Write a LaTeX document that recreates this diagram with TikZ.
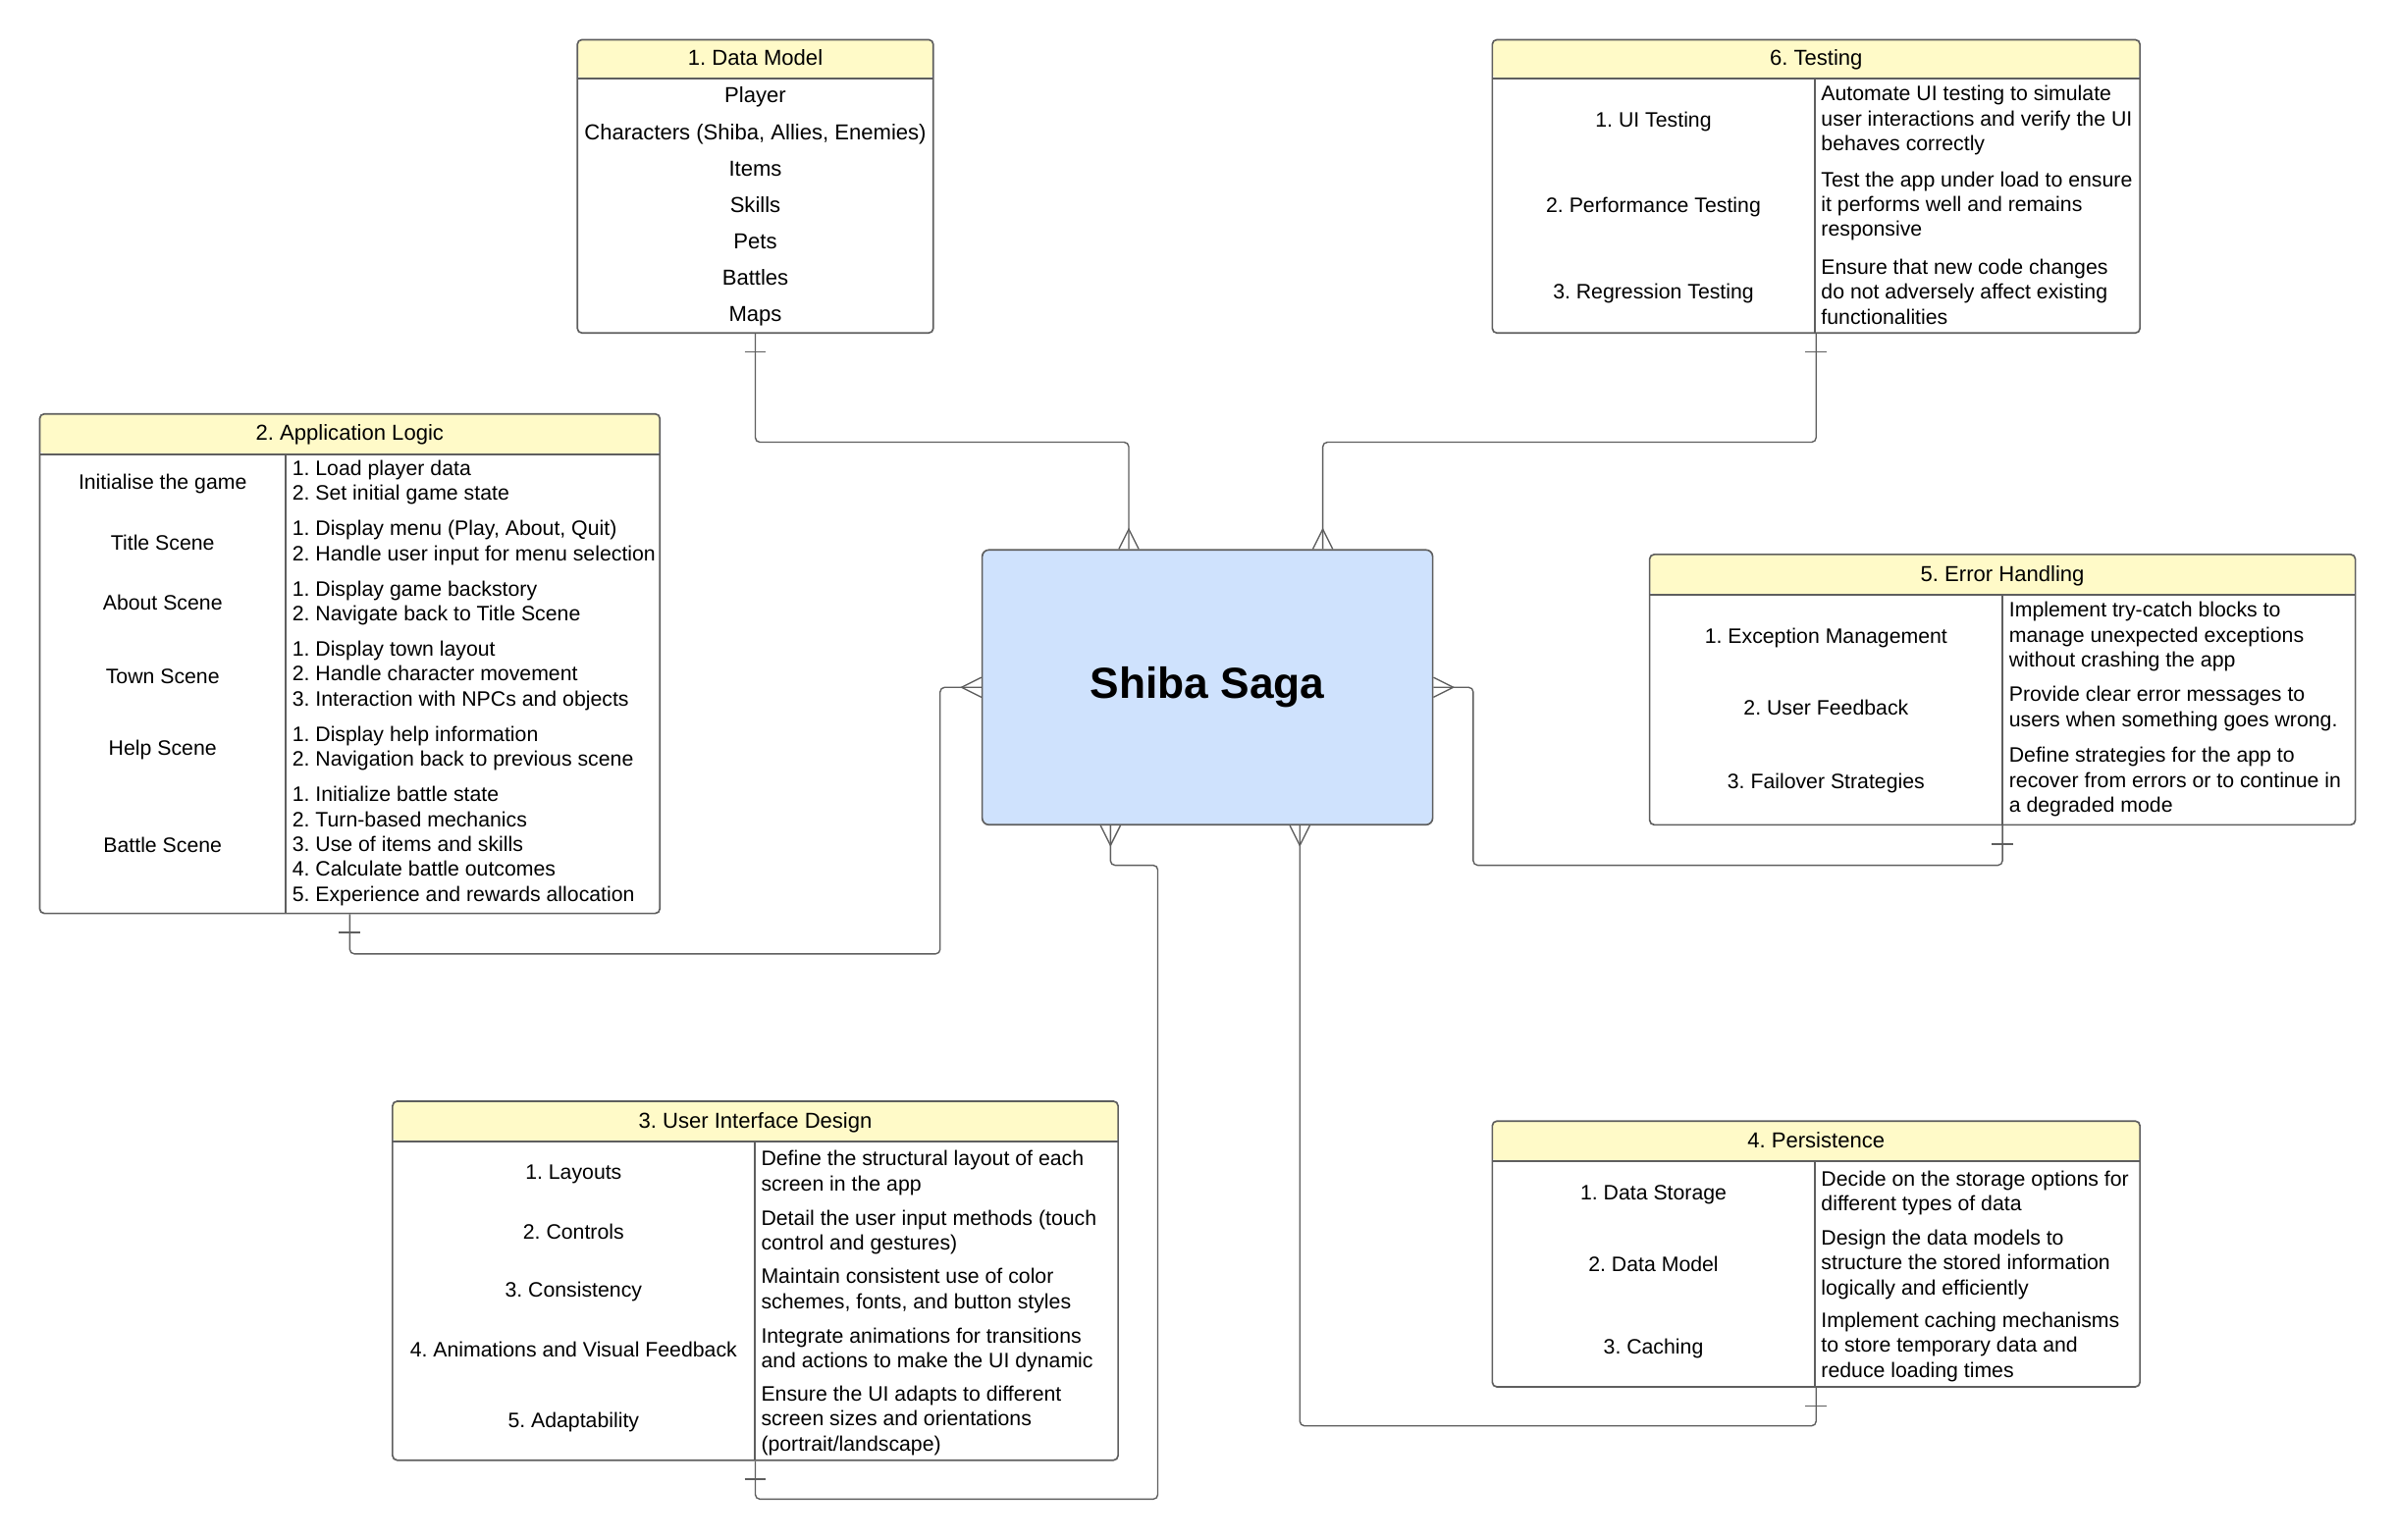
\documentclass[tikz,border=0pt]{standalone}
\usepackage{fontspec}
\setmainfont{Liberation Sans}
\usetikzlibrary{fit,calc}
\definecolor{headyellow}{HTML}{FFFAC8}
\definecolor{coreblue}{HTML}{CFE2FD}
\definecolor{linegray}{HTML}{5E5E5E}
\newcommand{\headfont}{\fontsize{8.07pt}{9.3pt}\selectfont\frenchspacing}
\newcommand{\tabfont}{\fontsize{7.78pt}{9.3pt}\selectfont\frenchspacing}

\begin{document}
\begin{tikzpicture}[x=0.02cm,y=-0.02cm]
\tikzset{frame/.style = {draw=linegray, line width=0.6pt, rounded corners=1.7pt, inner sep=0pt}}
\tikzset{head/.style = {fill=headyellow, rounded corners=1.7pt, inner sep=0pt, font=\headfont, text height=.72em, text depth=.21em}}
\tikzset{rule/.style = {draw=linegray, line width=0.6pt}}
\tikzset{item/.style = {inner sep=0pt, font=\headfont, text height=.72em, text depth=.21em, yshift=-1.1pt}}
\tikzset{cell/.style = {inner sep=0pt, font=\tabfont, text height=.72em, text depth=.21em, yshift=-1.1pt}}
\tikzset{desc/.style = {anchor=west, align=left, inner sep=0pt, font=\tabfont, yshift=-1.1pt}}
\tikzset{core/.style = {draw=linegray, line width=0.6pt, fill=coreblue, rounded corners=2.5pt, inner sep=0pt, font=\fontsize{16.2pt}{19pt}\selectfont\bfseries}}
\tikzset{link/.style = {draw=linegray, line width=0.5pt, rounded corners=1.7pt}}
\tikzset{many/.pic = {\draw[link, sharp corners] (-6.5,0) -- (0,-13) -- (6.5,0);}}
\tikzset{one/.pic = {\draw[link] (-7,12) -- (7,12);}}
\useasboundingbox (0,0) rectangle (1568,1008);
\fill[white] (0,0) rectangle (1568,1008);

% centre
\node[core, minimum width=5.9cm, minimum height=3.6cm] (ss) at (790.5,450) {Shiba Saga};
\coordinate (ss-t1) at ($(ss.north)+(-51.5,0)$);
\coordinate (ss-t2) at ($(ss.north)+(75.5,0)$);
\coordinate (ss-b1) at ($(ss.south)+(-63.5,0)$);
\coordinate (ss-b2) at ($(ss.south)+(60.5,0)$);

% 1. data model
\node[head, minimum width=4.66cm, minimum height=0.5cm] (dmh) at (494.5,38.5) {1. Data Model};
\node[frame, fit={(378,26)(611,218)}] (dm) {};
\draw[rule] (dmh.south west) -- (dmh.south east);
\foreach \t [count=\i] in {Player, {Characters (Shiba, Allies, Enemies)}, Items, Skills, Pets, Battles, Maps}
  \node[item] (dm-\i) at (494.5, {37.2+23.83*\i}) {\t};

% 6. testing
\node[head, minimum width=8.48cm, minimum height=0.5cm] (teh) at (1189,38.5) {6. Testing};
\node[frame, fit={(977,26)(1401,218)}] (te) {};
\draw[rule] (teh.south west) -- (teh.south east);
\draw[rule] (1188,51) -- (1188,218);
\node[cell] (te-1) at (1082.5,77) {1. UI Testing};
\node[cell] (te-2) at (1082.5,133) {2. Performance Testing};
\node[cell] (te-3) at (1082.5,189) {3. Regression Testing};
\node[desc] (te-d1) at (1192,77) {Automate UI testing to simulate\\user interactions and verify the UI\\behaves correctly};
\node[desc] (te-d2) at (1192,133) {Test the app under load to ensure\\it performs well and remains\\responsive};
\node[desc] (te-d3) at (1192,189) {Ensure that new code changes\\do not adversely affect existing\\functionalities};

% 2. application logic
\node[head, minimum width=8.12cm, minimum height=0.52cm] (alh) at (229,284) {2. Application Logic};
\node[frame, fit={(26,271)(432,598)}] (al) {};
\draw[rule] (alh.south west) -- (alh.south east);
\draw[rule] (187,297) -- (187,598);
\node[cell] (al-1) at (106.5,314) {Initialise the game};
\node[cell] (al-2) at (106.5,354) {Title Scene};
\node[cell] (al-3) at (106.5,393) {About Scene};
\node[cell] (al-4) at (106.5,441) {Town Scene};
\node[cell] (al-5) at (106.5,488) {Help Scene};
\node[cell] (al-6) at (106.5,552) {Battle Scene};
\node[desc] (al-d1) at (191,314) {1. Load player data\\2. Set initial game state};
\node[desc] (al-d2) at (191,353.5) {1. Display menu (Play, About, Quit)\\2. Handle user input for menu selection};
\node[desc] (al-d3) at (191,393) {1. Display game backstory\\2. Navigate back to Title Scene};
\node[desc] (al-d4) at (191,440.5) {1. Display town layout\\2. Handle character movement\\3. Interaction with NPCs and objects};
\node[desc] (al-d5) at (191,488) {1. Display help information\\2. Navigation back to previous scene};
\node[desc] (al-d6) at (191,552) {1. Initialize battle state\\2. Turn-based mechanics\\3. Use of items and skills\\4. Calculate battle outcomes\\5. Experience and rewards allocation};

% 5. error handling
\node[head, minimum width=9.24cm, minimum height=0.52cm] (ehh) at (1311,376) {5. Error Handling};
\node[frame, fit={(1080,363)(1542,540)}] (eh) {};
\draw[rule] (ehh.south west) -- (ehh.south east);
\draw[rule] (1311,389) -- (1311,540);
\node[cell] (eh-1) at (1195.5,415) {1. Exception Management};
\node[cell] (eh-2) at (1195.5,462) {2. User Feedback};
\node[cell] (eh-3) at (1195.5,510) {3. Failover Strategies};
\node[desc] (eh-d1) at (1315,415) {Implement try-catch blocks to\\manage unexpected exceptions\\without crashing the app};
\node[desc] (eh-d2) at (1315,462) {Provide clear error messages to\\users when something goes wrong.};
\node[desc] (eh-d3) at (1315,510) {Define strategies for the app to\\recover from errors or to continue in\\a degraded mode};

% 3. user interface design
\node[head, minimum width=9.5cm, minimum height=0.52cm] (uih) at (494.5,734) {3. User Interface Design};
\node[frame, fit={(257,721)(732,956)}] (ui) {};
\draw[rule] (uih.south west) -- (uih.south east);
\draw[rule] (494,747) -- (494,956);
\node[cell] (ui-1) at (375.5,766) {1. Layouts};
\node[cell] (ui-2) at (375.5,805) {2. Controls};
\node[cell] (ui-3) at (375.5,843) {3. Consistency};
\node[cell] (ui-4) at (375.5,882) {4. Animations and Visual Feedback};
\node[cell] (ui-5) at (375.5,928) {5. Adaptability};
\node[desc] (ui-d1) at (498,766) {Define the structural layout of each\\screen in the app};
\node[desc] (ui-d2) at (498,805) {Detail the user input methods (touch\\control and gestures)};
\node[desc] (ui-d3) at (498,843) {Maintain consistent use of color\\schemes, fonts, and button styles};
\node[desc] (ui-d4) at (498,882) {Integrate animations for transitions\\and actions to make the UI dynamic};
\node[desc] (ui-d5) at (498,928) {Ensure the UI adapts to different\\screen sizes and orientations\\(portrait/landscape)};

% 4. persistence
\node[head, minimum width=8.48cm, minimum height=0.52cm] (peh) at (1189,747) {4. Persistence};
\node[frame, fit={(977,734)(1401,908)}] (pe) {};
\draw[rule] (peh.south west) -- (peh.south east);
\draw[rule] (1188,760) -- (1188,908);
\node[cell] (pe-1) at (1082.5,779) {1. Data Storage};
\node[cell] (pe-2) at (1082.5,826) {2. Data Model};
\node[cell] (pe-3) at (1082.5,880) {3. Caching};
\node[desc] (pe-d1) at (1192,779) {Decide on the storage options for\\different types of data};
\node[desc] (pe-d2) at (1192,826) {Design the data models to\\structure the stored information\\logically and efficiently};
\node[desc] (pe-d3) at (1192,880) {Implement caching mechanisms\\to store temporary data and\\reduce loading times};

% links
\draw[link] (dm.south) -- ++(0,71) -| (ss-t1);
\draw[link] (te.south) -- ++(0,71) -| (ss-t2);
\draw[link] (al.south) -- ++(0,26) -| ($(ss.west)+(-27,0)$) -- (ss.west);
\draw[link] (eh.south) -- ++(0,26) -| ($(ss.east)+(26,0)$) -- (ss.east);
\draw[link] (ui.south) -- ++(0,25) -| ($(ss-b1)+(31,26)$) -| (ss-b1);
\draw[link] (pe.south) -- ++(0,25) -| (ss-b2);
% ends
\foreach \n in {dm,te,al,eh,ui,pe} \pic at (\n.south) {one};
\pic at (ss-t1) {many};
\pic at (ss-t2) {many};
\pic[rotate=90] at (ss.west) {many};
\pic[rotate=-90] at (ss.east) {many};
\pic[rotate=180] at (ss-b1) {many};
\pic[rotate=180] at (ss-b2) {many};
\end{tikzpicture}
\end{document}
